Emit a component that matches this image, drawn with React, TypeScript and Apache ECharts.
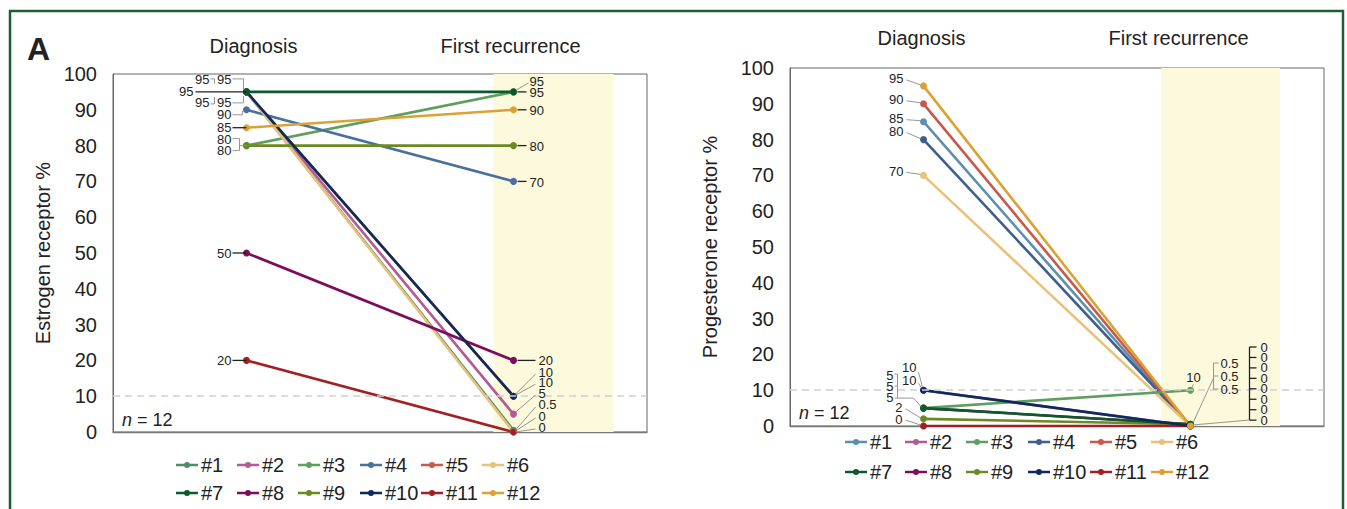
import React, { useEffect, useRef } from 'react';
import * as echarts from 'echarts';

const FONT = '"Liberation Sans", Arial, Helvetica, sans-serif';

// ---------- data ----------
const TIMEPOINTS = ['Diagnosis', 'First recurrence'];
const PATIENTS = ['#1', '#2', '#3', '#4', '#5', '#6', '#7', '#8', '#9', '#10', '#11', '#12'];
const ER_DIAGNOSIS = [95, 95, 80, 90, 95, 95, 95, 50, 80, 95, 20, 85];
const ER_RECURRENCE = [0.5, 5, 95, 70, 10, 0, 95, 20, 80, 10, 0, 90];
const PR_DIAGNOSIS = [85, 10, 5, 80, 90, 70, 5, 5, 2, 10, 0, 95];
const PR_RECURRENCE = [0, 0, 10, 0, 0, 0, 0.5, 0.5, 0.5, 0, 0, 0];
const Y_MIN = 0;
const Y_MAX = 100;
const Y_STEP = 10;
const THRESHOLD = 10;
const SAMPLE_SIZE = 12;

// ---------- styles ----------
const COLORS_ER = ['#4f8c6c', '#b35a96', '#5e9e5e', '#4a709e', '#c8584a', '#e8c27a', '#0b5a2c', '#7d0d5c', '#6b8a23', '#0b2b5c', '#a41f23', '#dba233'];
const COLORS_PR = ['#5b8fae', '#b35a96', '#5e9e5e', '#3e5f8e', '#c8584a', '#e8c27a', '#0b5a2c', '#7d0d5c', '#6b8a23', '#0b2b5c', '#a41f23', '#dba233'];
const ICON = 'path://M0 3.8h22v2.4h-22z M8 5a3 3 0 1 1 6 0a3 3 0 1 1 -6 0z';
const ANN_SIZE = 13;

const PANELS = [
  {
    diag: ER_DIAGNOSIS, rec: ER_RECURRENCE, colors: COLORS_ER, yName: 'Estrogen receptor %',
    grid: { left: 113, top: 74, width: 534, height: 358 }, band: [0.925, 1.375], nameGap: 60, suffix: '',
    legendX: [176, 237, 298, 360, 421, 482], legendTop: 455, legendGap: 8, headerDx: [7, -3], headerDy: -28,
    drawOrder: [0, 1, 2, 3, 4, 5, 7, 8, 9, 10, 11, 6],
  },
  {
    diag: PR_DIAGNOSIS, rec: PR_RECURRENCE, colors: COLORS_PR, yName: 'Progesterone receptor %',
    grid: { left: 790, top: 68, width: 534, height: 358 }, band: [0.89, 1.335], nameGap: 70, suffix: ' ',
    legendX: [845, 905, 966, 1028, 1090, 1151], legendTop: 432, legendGap: 10, headerDx: [-2, -12], headerDy: -30,
    drawOrder: [0, 1, 3, 4, 5, 7, 8, 10, 2, 6, 9, 11],
  },
];

function buildOption(): any {
  const grid: any[] = [];
  const xAxis: any[] = [];
  const yAxis: any[] = [];
  const series: any[] = [];
  const legend: any[] = [];
  PANELS.forEach((p, g) => {
    grid.push({ ...p.grid, show: true, borderColor: '#666', borderWidth: 1, backgroundColor: 'transparent' });
    xAxis.push({
      gridIndex: g, type: 'value', min: -0.5, max: 1.5,
      axisLine: { show: true, onZero: false, lineStyle: { color: '#777', width: 1.3 } },
      axisTick: { show: false }, axisLabel: { show: false }, splitLine: { show: false },
    });
    yAxis.push({
      gridIndex: g, type: 'value', min: Y_MIN, max: Y_MAX, interval: Y_STEP,
      axisLine: { show: true, onZero: false, lineStyle: { color: '#666', width: 1 } },
      axisTick: { show: false }, splitLine: { show: false },
      axisLabel: { fontSize: 20, color: '#222', fontFamily: FONT, margin: 16 },
      name: p.yName, nameLocation: 'middle', nameGap: p.nameGap,
      nameTextStyle: { fontSize: 20, color: '#222', fontFamily: FONT },
    });
    series.push({
      type: 'line', xAxisIndex: g, yAxisIndex: g, data: [], z: 1, silent: true,
      markArea: { silent: true, itemStyle: { color: '#fdf9dc' }, data: [[{ xAxis: p.band[0] }, { xAxis: p.band[1] }]] },
      markLine: {
        silent: true, symbol: 'none', label: { show: false },
        lineStyle: { type: [7, 5], color: '#cfcfcf', width: 1.5 },
        data: [{ yAxis: THRESHOLD }],
      },
    });
    p.drawOrder.forEach((i) => {
      series.push({
        type: 'line', name: PATIENTS[i] + p.suffix, xAxisIndex: g, yAxisIndex: g, z: 3, silent: true,
        data: [[0, p.diag[i]], [1, p.rec[i]]],
        color: p.colors[i], symbol: 'circle', symbolSize: 7,
        lineStyle: { width: 2.6, color: p.colors[i] },
        itemStyle: { color: p.colors[i] },
      });
    });
    for (let c = 0; c < 6; c++) {
      legend.push({
        orient: 'vertical', left: p.legendX[c], top: p.legendTop, padding: 0,
        itemGap: p.legendGap, itemWidth: 22, itemHeight: 6, icon: ICON, selectedMode: false,
        data: [PATIENTS[c] + p.suffix, PATIENTS[c + 6] + p.suffix],
        formatter: (n: string) => n.trim(),
        textStyle: { fontSize: 20, color: '#222', fontFamily: FONT, padding: [0, 0, 0, -2] },
      });
    }
  });
  return { animation: false, grid, xAxis, yAxis, series, legend, textStyle: { fontFamily: FONT } };
}

function buildGraphics(P: (g: number, x: number, v: number) => number[]): any[] {
  const els: any[] = [];
  const T = (x: number, y: number, s: string | number, align = 'right', size = ANN_SIZE) =>
    els.push({
      type: 'text', x, y, z: 100,
      style: { text: String(s), fill: '#222', font: `${size}px ${FONT}`, textAlign: align, textVerticalAlign: 'middle' },
    });
  const L = (pts: number[][], dark = false) =>
    els.push({
      type: 'polyline', z: 99, shape: { points: pts },
      style: { stroke: dark ? '#222' : '#8a8a8a', lineWidth: dark ? 1.3 : 0.9, fill: null },
    });

  // outer frame and panel letter
  els.push({ type: 'rect', z: 0, shape: { x: 10, y: 11, width: 1333, height: 540 }, style: { fill: null, stroke: '#1b5e33', lineWidth: 2.5 } });
  els.push({ type: 'text', x: 27, y: 49, z: 100, style: { text: 'A', fill: '#222', font: `bold 32px ${FONT}`, textAlign: 'left', textVerticalAlign: 'middle' } });

  PANELS.forEach((p, g) => {
    const top = P(g, 0, Y_MAX)[1];
    TIMEPOINTS.forEach((t, xi) => {
      const [x] = P(g, xi, Y_MAX);
      T(x + p.headerDx[xi], top + p.headerDy, t, 'center', 20);
    });
    const [bx, by] = P(g, -0.5, Y_MIN);
    els.push({
      type: 'text', x: bx + 9, y: by - 12 - (g === 1 ? 1 : 0), z: 100,
      style: { text: '{i|n} = ' + SAMPLE_SIZE, fill: '#222', font: `18px ${FONT}`, textAlign: 'left', textVerticalAlign: 'middle',
        rich: { i: { fontStyle: 'italic', fontSize: 18, fontFamily: FONT, fill: '#222' } } },
    });
  });

  // ---------- ER panel: diagnosis labels ----------
  {
    const [x, y] = P(0, 0, 95);
    T(x - 53, y, 95); L([[x - 51, y], [x, y]], true);
    T(x - 37, y - 12, 95); L([[x - 36, y - 13], [x - 32, y - 13], [x - 32, y - 8]]);
    T(x - 15, y - 12, 95); L([[x - 14, y - 13], [x - 3, y - 13], [x - 3, y - 3]]);
    T(x - 37, y + 11, 95); L([[x - 36, y + 12], [x - 32, y + 12], [x - 32, y + 5]]);
    T(x - 15, y + 11, 95); L([[x - 14, y + 11], [x - 3, y + 11], [x - 3, y + 4]]);
    const [x9, y9] = P(0, 0, 90);
    T(x9 - 15, y9 + 5, 90); L([[x9 - 14, y9 + 5], [x9 - 4, y9 + 5], [x9 - 4, y9 + 1]]);
    const [x8, y8] = P(0, 0, 85);
    T(x8 - 15, y8, 85); L([[x8 - 14, y8], [x8, y8]], true);
    const [x80, y80] = P(0, 0, 80);
    T(x80 - 15, y80 - 6, 80); T(x80 - 15, y80 + 5, 80);
    L([[x80 - 14, y80 - 7], [x80 - 7, y80 - 7], [x80 - 7, y80 + 5], [x80 - 14, y80 + 5]]);
    L([[x80 - 7, y80], [x80, y80]]);
    [50, 20].forEach((v) => {
      const [xv, yv] = P(0, 0, v);
      T(xv - 15, yv, v); L([[xv - 14, yv], [xv, yv]], true);
    });
  }
  // ---------- ER panel: recurrence labels ----------
  {
    const [x, y] = P(0, 1, 95);
    T(x + 16, y - 10, 95, 'left'); L([[x + 3, y - 2], [x + 15, y - 9]]);
    [95, 90, 80, 70].forEach((v) => {
      const [xv, yv] = P(0, 1, v);
      T(xv + 16, yv + 1, v, 'left'); L([[xv + 4, yv], [xv + 13, yv]], true);
    });
    const [x20, y20] = P(0, 1, 20);
    T(x20 + 25, y20, 20, 'left'); L([[x20 + 4, y20], [x20 + 22, y20]], true);
    const [x10, y10] = P(0, 1, 10);
    T(x10 + 25, y10 - 24, 10, 'left'); L([[x10 + 2, y10 - 2], [x10 + 22, y10 - 22]]);
    T(x10 + 25, y10 - 14, 10, 'left'); L([[x10 + 2, y10 - 1], [x10 + 22, y10 - 12]]);
    const [x5, y5] = P(0, 1, 5);
    T(x5 + 25, y5 - 21, 5, 'left'); L([[x5 + 2, y5 - 2], [x5 + 22, y5 - 19]]);
    const [x0, y0] = P(0, 1, 0);
    T(x0 + 25, y0 - 28, 0.5, 'left'); L([[x0 + 2, y0 - 2], [x0 + 22, y0 - 25]]);
    T(x0 + 25, y0 - 16, 0, 'left'); L([[x0 + 2, y0 - 1], [x0 + 22, y0 - 14]]);
    T(x0 + 25, y0 - 5, 0, 'left'); L([[x0 + 2, y0], [x0 + 22, y0 - 3]]);
  }
  // ---------- PR panel: diagnosis labels ----------
  {
    const offs: [number, number][] = [[95, -7], [90, -4], [85, -3], [80, -8], [70, -4]];
    offs.forEach(([v, dy]) => {
      const [x, y] = P(1, 0, v);
      T(x - 20, y + dy, v); L([[x - 17, y + dy + 1], [x - 3, y - 1]]);
    });
    const [x10, y10] = P(1, 0, 10);
    T(x10 - 7, y10 - 23, 10); L([[x10 - 5, y10 - 18], [x10 - 1, y10 - 3]]);
    T(x10 - 7, y10 - 10, 10); L([[x10 - 5, y10 - 7], [x10 - 2, y10 - 2]]);
    const [x5, y5] = P(1, 0, 5);
    T(x5 - 30, y5 - 33, 5); T(x5 - 30, y5 - 22, 5); T(x5 - 30, y5 - 11, 5);
    L([[x5 - 29, y5 - 34], [x5 - 26, y5 - 34], [x5 - 26, y5 - 10], [x5 - 29, y5 - 10]]);
    L([[x5 - 26, y5 - 22], [x5 - 29, y5 - 22]]);
    L([[x5 - 26, y5 - 10], [x5 - 10, y5 - 10], [x5 - 2, y5 - 1]]);
    const [x2, y2] = P(1, 0, 2);
    T(x2 - 21, y2 - 11, 2); L([[x2 - 18, y2 - 10], [x2 - 3, y2 - 1]]);
    const [xz, yz] = P(1, 0, 0);
    T(xz - 21, yz - 7, 0); L([[xz - 18, yz - 6], [xz - 3, yz - 1]]);
  }
  // ---------- PR panel: recurrence labels ----------
  {
    const [x10, y10] = P(1, 1, 10);
    T(x10 + 3, y10 - 13, 10, 'center'); L([[x10 + 3, y10 - 6], [x10 + 1, y10 - 2]]);
    const [x0, y0] = P(1, 1, 0);
    const halfOffs = [-63, -50, -37];
    halfOffs.forEach((dy) => {
      T(x0 + 30, y0 + dy, 0.5, 'left');
      L([[x0 + 23, y0 + dy], [x0 + 28, y0 + dy]]);
    });
    L([[x0 + 23, y0 - 63], [x0 + 23, y0 - 37]]);
    L([[x0 + 23, y0 - 48], [x0 + 2, y0 - 2]]);
    for (let k = 0; k < 8; k++) {
      const dy = -79 + k * 10.45;
      T(x0 + 70, y0 + dy, 0, 'left');
      L([[x0 + 59, y0 + dy], [x0 + 66, y0 + dy]], true);
    }
    L([[x0 + 59, y0 - 79], [x0 + 59, y0 - 6]], true);
    L([[x0 + 59, y0 - 6], [x0 + 2, y0 - 1]]);
  }
  return els;
}

export default function App() {
  const ref = useRef<HTMLDivElement>(null);
  useEffect(() => {
    const chart = echarts.init(ref.current as HTMLDivElement, null, { renderer: 'svg' });
    chart.setOption(buildOption());
    const P = (g: number, x: number, v: number) => chart.convertToPixel({ gridIndex: g } as any, [x, v]) as number[];
    chart.setOption({ graphic: { elements: buildGraphics(P) } });
    return () => chart.dispose();
  }, []);
  return <div ref={ref} style={{ position: 'absolute', left: 0, top: 0, width: 1347, height: 509, background: '#fff' }} />;
}
